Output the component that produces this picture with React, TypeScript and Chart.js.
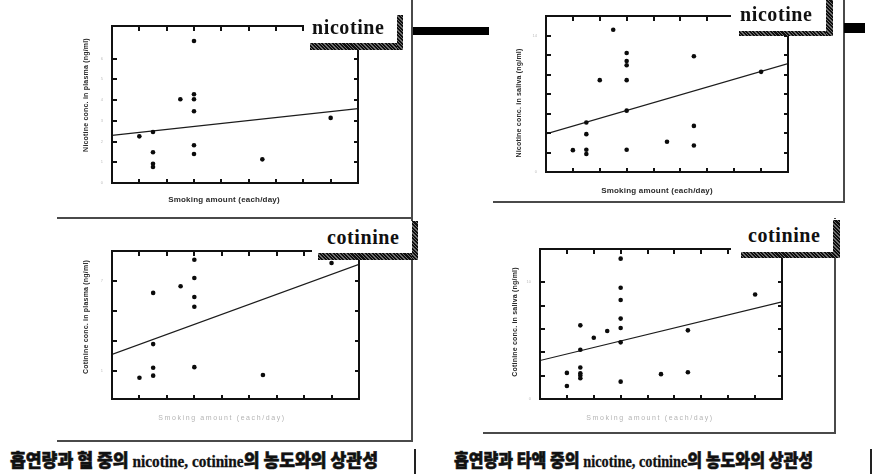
import React, { useEffect, useLayoutEffect, useRef, useState } from "react";
import { Chart, registerables } from "chart.js";

Chart.register(...registerables);

// Smoking amount axis (cigarettes per day), shared by all four panels
const smokingRange = [0, 18];
const smokingTitle = "Smoking amount (each/day)";

// Nicotine in plasma
const plasmaNicotineX = [2, 3, 3, 3, 3, 5, 6, 6, 6, 6, 6, 6, 11, 16];
const plasmaNicotineY = [2.25, 2.46, 1.48, 0.93, 0.77, 4.04, 6.85, 4.28, 4.04, 3.46, 1.82, 1.4, 1.14, 3.14];
const plasmaNicotineFit = [2.3, 3.59]; // fitted values at both ends of the smoking axis
const plasmaNicotineRange = [0, 7.57];

// Nicotine in saliva
const salivaNicotineX = [2, 3, 3, 3, 3, 4, 5, 6, 6, 6, 6, 6, 6, 9, 11, 11, 11, 16];
const salivaNicotineY = [2.24, 5.07, 3.88, 2.28, 1.84, 9.42, 14.59, 12.21, 11.39, 10.95, 9.42, 6.29, 2.28, 3.1, 11.87, 4.73, 2.72, 10.27];
const salivaNicotineFit = [3.91, 11.12];
const salivaNicotineRange = [0, 16];

// Cotinine in plasma
const plasmaCotinineX = [2, 3, 3, 3, 3, 5, 6, 6, 6, 6, 6, 11, 16];
const plasmaCotinineY = [0.53, 6.2, 2.78, 1.2, 0.67, 6.64, 8.42, 7.2, 5.93, 5.27, 1.24, 0.71, 8.2];
const plasmaCotinineFit = [2.09, 8.11];
const plasmaCotinineRange = [-0.89, 9];

// Cotinine in saliva
const salivaCotinineX = [2, 2, 3, 3, 3, 3, 3, 3, 4, 5, 6, 6, 6, 6, 6, 6, 6, 9, 11, 11, 16];
const salivaCotinineY = [2.24, 1.12, 6.32, 4.22, 2.7, 2.21, 2.01, 1.78, 5.26, 5.83, 12.04, 9.54, 8.5, 6.9, 6.09, 4.86, 1.49, 2.13, 5.89, 2.3, 8.97];
const salivaCotinineFit = [3.3, 8.33];
const salivaCotinineRange = [0, 12.87];

const PAD = { l: 18, r: 4, t: 4, b: 4 };

type Box = { left: number; top: number; width: number; height: number };
type TickSet = { x: number[]; y: { v: number; p: number }[] };

function ScatterPanel(props: {
  xs: number[];
  ys: number[];
  fit: number[];
  yRange: number[];
  box: Box;
  labelEvery: number;
}) {
  const { xs, ys, fit, yRange, box, labelEvery } = props;
  const ref = useRef<HTMLCanvasElement>(null);
  const [ticks, setTicks] = useState<TickSet>({ x: [], y: [] });

  useEffect(() => {
    const chart = new Chart(ref.current as HTMLCanvasElement, {
      type: "scatter",
      data: {
        datasets: [
          {
            data: xs.map((x, k) => ({ x, y: ys[k] })),
            pointRadius: 2.3,
            backgroundColor: "#0b0b0b",
            borderWidth: 0,
          },
          {
            data: smokingRange.map((x, k) => ({ x, y: fit[k] })),
            showLine: true,
            pointRadius: 0,
            borderColor: "#1c1c1c",
            borderWidth: 1.2,
          },
        ],
      },
      options: {
        responsive: false,
        animation: false,
        events: [],
        layout: { padding: { left: PAD.l, right: PAD.r, top: PAD.t, bottom: PAD.b } },
        plugins: { legend: { display: false }, tooltip: { enabled: false } },
        scales: {
          x: {
            type: "linear",
            display: false,
            min: smokingRange[0],
            max: smokingRange[1],
            ticks: { stepSize: 1, maxTicksLimit: 100 },
          },
          y: {
            type: "linear",
            display: false,
            min: yRange[0],
            max: yRange[1],
            ticks: { stepSize: 1, maxTicksLimit: 100 },
          },
        },
      },
    } as any);

    // tick marks for the plot frame, placed by the chart's own scales
    const sx: any = chart.scales.x;
    const sy: any = chart.scales.y;
    const xt = sx.ticks
      .map((t: any) => t.value)
      .filter((v: number) => Number.isInteger(v) && v > sx.min && v < sx.max)
      .map((v: number) => sx.getPixelForValue(v));
    const yt = sy.ticks
      .map((t: any) => t.value)
      .filter((v: number) => Number.isInteger(v) && v >= sy.min && v < sy.max)
      .map((v: number) => ({ v, p: sy.getPixelForValue(v) }));
    setTicks({ x: xt, y: yt });
    return () => chart.destroy();
  }, []);

  const w = box.width + PAD.l + PAD.r;
  const h = box.height + PAD.t + PAD.b;
  const cl = box.left - PAD.l;
  const ct = box.top - PAD.t;
  const len = 3.5;
  const thick = 1.6;
  const ink = "#111";
  return (
    <>
      <canvas
        ref={ref}
        width={w}
        height={h}
        style={{ position: "absolute", left: cl, top: ct, width: w, height: h }}
      />
      <div
        style={{
          position: "absolute",
          left: box.left - 1,
          top: box.top - 1,
          width: box.width + 2,
          height: box.height + 2,
          border: `2px solid ${ink}`,
          boxSizing: "border-box",
        }}
      />
      {ticks.x.map((p, k) => (
        <React.Fragment key={"x" + k}>
          <div style={{ position: "absolute", left: cl + Math.round(p) - 0.8, top: box.top + 1, width: thick, height: len, background: ink }} />
          <div style={{ position: "absolute", left: cl + Math.round(p) - 0.8, top: box.top + box.height - 1 - len, width: thick, height: len, background: ink }} />
        </React.Fragment>
      ))}
      {ticks.y.map((t, k) => {
        const y = ct + Math.round(t.p);
        const inside = y > box.top + 2 && y < box.top + box.height - 2;
        return (
          <React.Fragment key={"y" + k}>
            {inside && (
              <>
                <div style={{ position: "absolute", left: box.left + 1, top: y - 0.8, width: len, height: thick, background: ink }} />
                <div style={{ position: "absolute", left: box.left + box.width - 1 - len, top: y - 0.8, width: len, height: thick, background: ink }} />
              </>
            )}
            {labelEvery > 0 && k % labelEvery === 0 && (
              <div
                style={{
                  position: "absolute",
                  left: box.left - 30,
                  top: y - 3,
                  width: 21,
                  textAlign: "right",
                  font: "4px 'Liberation Sans'",
                  lineHeight: "6px",
                  color: "#bdbdbd",
                }}
              >
                {t.v}
              </div>
            )}
          </React.Fragment>
        );
      })}
    </>
  );
}

const shade = "repeating-linear-gradient(45deg, #0e0e0e 0px, #0e0e0e 1.5px, #6e6e6e 1.5px, #6e6e6e 2.5px)";

function Tag(props: { text: string; bg: Box; textLeft: number; textTop: number; strip: Box; side: Box }) {
  const { text, bg, textLeft, textTop, strip, side } = props;
  return (
    <>
      <div style={{ position: "absolute", ...bg, background: "#fff" }} />
      <div
        style={{
          position: "absolute",
          left: textLeft,
          top: textTop,
          font: "bold 20px 'Liberation Serif'",
          lineHeight: "20px",
          letterSpacing: "0.6px",
          color: "#111",
          whiteSpace: "nowrap",
        }}
      >
        {text}
      </div>
      <div style={{ position: "absolute", ...strip, background: shade }} />
      <div style={{ position: "absolute", ...side, background: shade }} />
    </>
  );
}

function Rule(props: Box & { color?: string }) {
  const { color, ...r } = props;
  return <div style={{ position: "absolute", ...r, background: color || "#4a4a4a" }} />;
}

function AxisTitle(props: { text: string; cx: number; cy: number; vertical?: boolean; faint?: boolean; size?: number }) {
  const { text, cx, cy, vertical, faint, size } = props;
  return (
    <div
      style={{
        position: "absolute",
        left: cx,
        top: cy,
        transform: `translate(-50%, -50%)${vertical ? " rotate(-90deg)" : ""}`,
        font: `${faint ? "normal" : "bold"} ${size || 7}px 'Liberation Sans'`,
        letterSpacing: faint ? "1.6px" : "0.2px",
        color: faint ? "#b4b4b4" : "#2a2a2a",
        whiteSpace: "nowrap",
      }}
    >
      {text}
    </div>
  );
}

function Caption(props: { left: number; top: number; target: number; fluid: string }) {
  const { left, top, target, fluid } = props;
  const ref = useRef<HTMLDivElement>(null);
  useLayoutEffect(() => {
    const el = ref.current as HTMLDivElement;
    const fit = () => {
      el.style.transform = "none";
      const w = el.getBoundingClientRect().width;
      if (w > 0) el.style.transform = `scaleX(${target / w})`;
    };
    fit();
    (document as any).fonts?.ready?.then(fit);
  }, []);
  const ko = { font: "900 18px 'Noto Sans CJK KR'", color: "#111", WebkitTextStroke: "0.6px #111" } as React.CSSProperties;
  const en = { font: "bold 16px 'Liberation Serif'", color: "#111", WebkitTextStroke: "0.3px #111" } as React.CSSProperties;
  return (
    <div
      ref={ref}
      style={{
        position: "absolute",
        left,
        top,
        lineHeight: "20px",
        whiteSpace: "nowrap",
        transformOrigin: "0 0",
        display: "inline-block",
      }}
    >
      <span style={ko}>{`흡연량과 ${fluid} 중의 `}</span>
      <span style={en}>nicotine, cotinine</span>
      <span style={ko}>의 농도와의 상관성</span>
    </div>
  );
}

export default function App() {
  return (
    <div style={{ position: "absolute", left: 0, top: 0, width: 876, height: 474, background: "#fff", overflow: "hidden" }}>
      <ScatterPanel
        xs={plasmaNicotineX}
        ys={plasmaNicotineY}
        fit={plasmaNicotineFit}
        yRange={plasmaNicotineRange}
        box={{ left: 112, top: 26, width: 246, height: 157 }}
        labelEvery={1}
      />
      <ScatterPanel
        xs={salivaNicotineX}
        ys={salivaNicotineY}
        fit={salivaNicotineFit}
        yRange={salivaNicotineRange}
        box={{ left: 546, top: 16, width: 242, height: 156 }}
        labelEvery={7}
      />
      <ScatterPanel
        xs={plasmaCotinineX}
        ys={plasmaCotinineY}
        fit={plasmaCotinineFit}
        yRange={plasmaCotinineRange}
        box={{ left: 112, top: 251, width: 247, height: 148 }}
        labelEvery={3}
      />
      <ScatterPanel
        xs={salivaCotinineX}
        ys={salivaCotinineY}
        fit={salivaCotinineFit}
        yRange={salivaCotinineRange}
        box={{ left: 540, top: 249, width: 242, height: 150 }}
        labelEvery={5}
      />

      {/* axis titles */}
      <AxisTitle text="Nicotine conc. in plasma (ng/ml)" cx={85} cy={95} vertical />
      <AxisTitle text={smokingTitle} cx={224} cy={199} size={8} />
      <AxisTitle text="Nicotine conc. in saliva (ng/ml)" cx={518} cy={103} vertical />
      <AxisTitle text={smokingTitle} cx={657} cy={190} size={8} />
      <AxisTitle text="Cotinine conc. in plasma (ng/ml)" cx={85} cy={317} vertical />
      <AxisTitle text={smokingTitle} cx={222} cy={417} faint />
      <AxisTitle text="Cotinine conc. in saliva (ng/ml)" cx={514} cy={322} vertical />
      <AxisTitle text={smokingTitle} cx={650} cy={417} faint />

      {/* panel frames */}
      <Rule left={411} top={0} width={2} height={442} />
      <Rule left={57} top={217} width={355} height={2} />
      <Rule left={57} top={440} width={355} height={2} />
      <Rule left={843} top={0} width={2} height={203} />
      <Rule left={493} top={201} width={351} height={2} />
      <Rule left={834} top={218} width={2} height={216} />
      <Rule left={483} top={432} width={352} height={2} />

      {/* black connector bars */}
      <Rule left={413} top={27} width={76} height={8} color="#000" />
      <Rule left={844} top={23} width={21} height={10} color="#000" />

      {/* compound tags */}
      <Tag
        text="nicotine"
        bg={{ left: 304, top: 12, width: 99, height: 38 }}
        textLeft={312}
        textTop={17}
        strip={{ left: 310, top: 43, width: 93, height: 7 }}
        side={{ left: 397, top: 15, width: 6, height: 35 }}
      />
      <Tag
        text="nicotine"
        bg={{ left: 731, top: 0, width: 102, height: 36 }}
        textLeft={740}
        textTop={4}
        strip={{ left: 739, top: 31, width: 94, height: 5 }}
        side={{ left: 826, top: 0, width: 7, height: 36 }}
      />
      <Tag
        text="cotinine"
        bg={{ left: 312, top: 221, width: 106, height: 39 }}
        textLeft={327}
        textTop={227}
        strip={{ left: 318, top: 253, width: 99, height: 7 }}
        side={{ left: 412, top: 221, width: 6, height: 39 }}
      />
      <Tag
        text="cotinine"
        bg={{ left: 731, top: 219, width: 109, height: 39 }}
        textLeft={748}
        textTop={225}
        strip={{ left: 741, top: 252, width: 93, height: 6 }}
        side={{ left: 833, top: 220, width: 7, height: 38 }}
      />

      {/* captions */}
      <Caption left={10} top={446} target={368} fluid="혈" />
      <Rule left={414} top={449} width={2} height={25} color="#222" />
      <Caption left={454} top={446} target={359} fluid="타액" />
      <Rule left={870} top={449} width={2} height={25} color="#222" />
    </div>
  );
}
